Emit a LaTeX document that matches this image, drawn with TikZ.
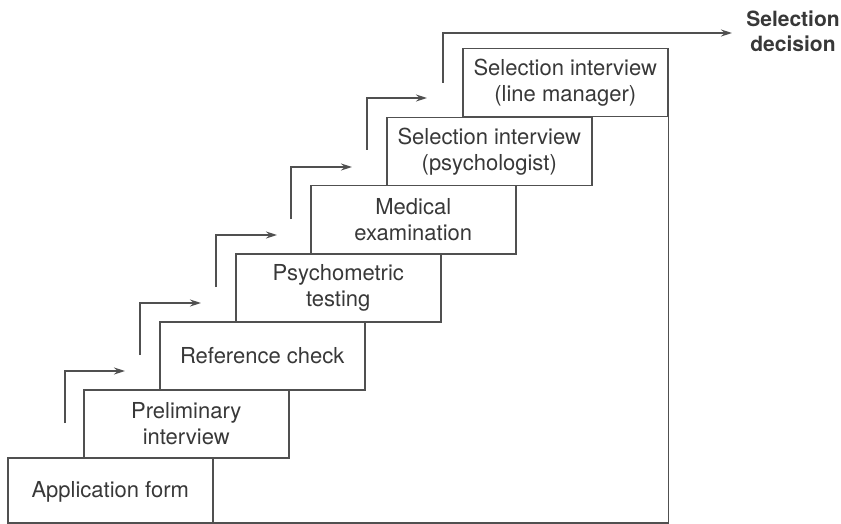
\documentclass[tikz,border=0pt]{standalone}
\usepackage{fontspec}
\setmainfont{TeX Gyre Heros}
\usetikzlibrary{arrows.meta}
\definecolor{inkline}{HTML}{505050}
\definecolor{inktext}{HTML}{383838}
\begin{document}
\begin{tikzpicture}[x=1pt,y=-1pt,
  stepbox/.style={draw=inkline, line width=1.5pt, minimum width=205pt, minimum height=68pt,
    inner sep=0pt, anchor=north west, align=center, text=inktext,
    font=\fontsize{22}{26}\selectfont},
  flow/.style={draw=inkline, line width=1.5pt, -{Stealth[length=11pt,width=7pt]}},
  lbl/.style={align=center, text=inktext, font=\fontsize{21}{25}\bfseries\selectfont}]
\useasboundingbox (0,0) rectangle (841,524);

% staircase of stages
\node[stepbox] (app)  at (7,457)   {Application form};
\node[stepbox] (pre)  at (83,389)  {Preliminary\\interview};
\node[stepbox] (ref)  at (159,321) {Reference check};
\node[stepbox] (psy)  at (235,253) {Psychometric\\testing};
\node[stepbox] (med)  at (310,185) {Medical\\examination};
\node[stepbox] (spsy) at (386,117) {Selection interview\\(psychologist)};
\node[stepbox] (slm)  at (462,48)  {Selection interview\\(line manager)};

% back wall and floor
\coordinate (floorR) at (slm.south east |- 0,523);
\coordinate (floorL) at (app.south west |- 0,523);
\draw[draw=inkline, line width=1.5pt] (slm.south east) -- (floorR) -- (floorL);

% outcome label
\node[lbl] (dec) at (793,31) {Selection\\decision};

% progression arrows
\coordinate (a1s) at (65,423);  \coordinate (a1e) at (125,371);
\coordinate (a2s) at (140,355); \coordinate (a2e) at (201,303);
\coordinate (a3s) at (216,287); \coordinate (a3e) at (277,235);
\coordinate (a4s) at (291,219); \coordinate (a4e) at (352,167);
\coordinate (a5s) at (367,150); \coordinate (a5e) at (427,98);
\coordinate (a6s) at (443,83);  \coordinate (a6e) at (732,33);
\foreach \k in {1,...,6}{
  \draw[flow] (a\k s) |- (a\k e);
}
\end{tikzpicture}
\end{document}
